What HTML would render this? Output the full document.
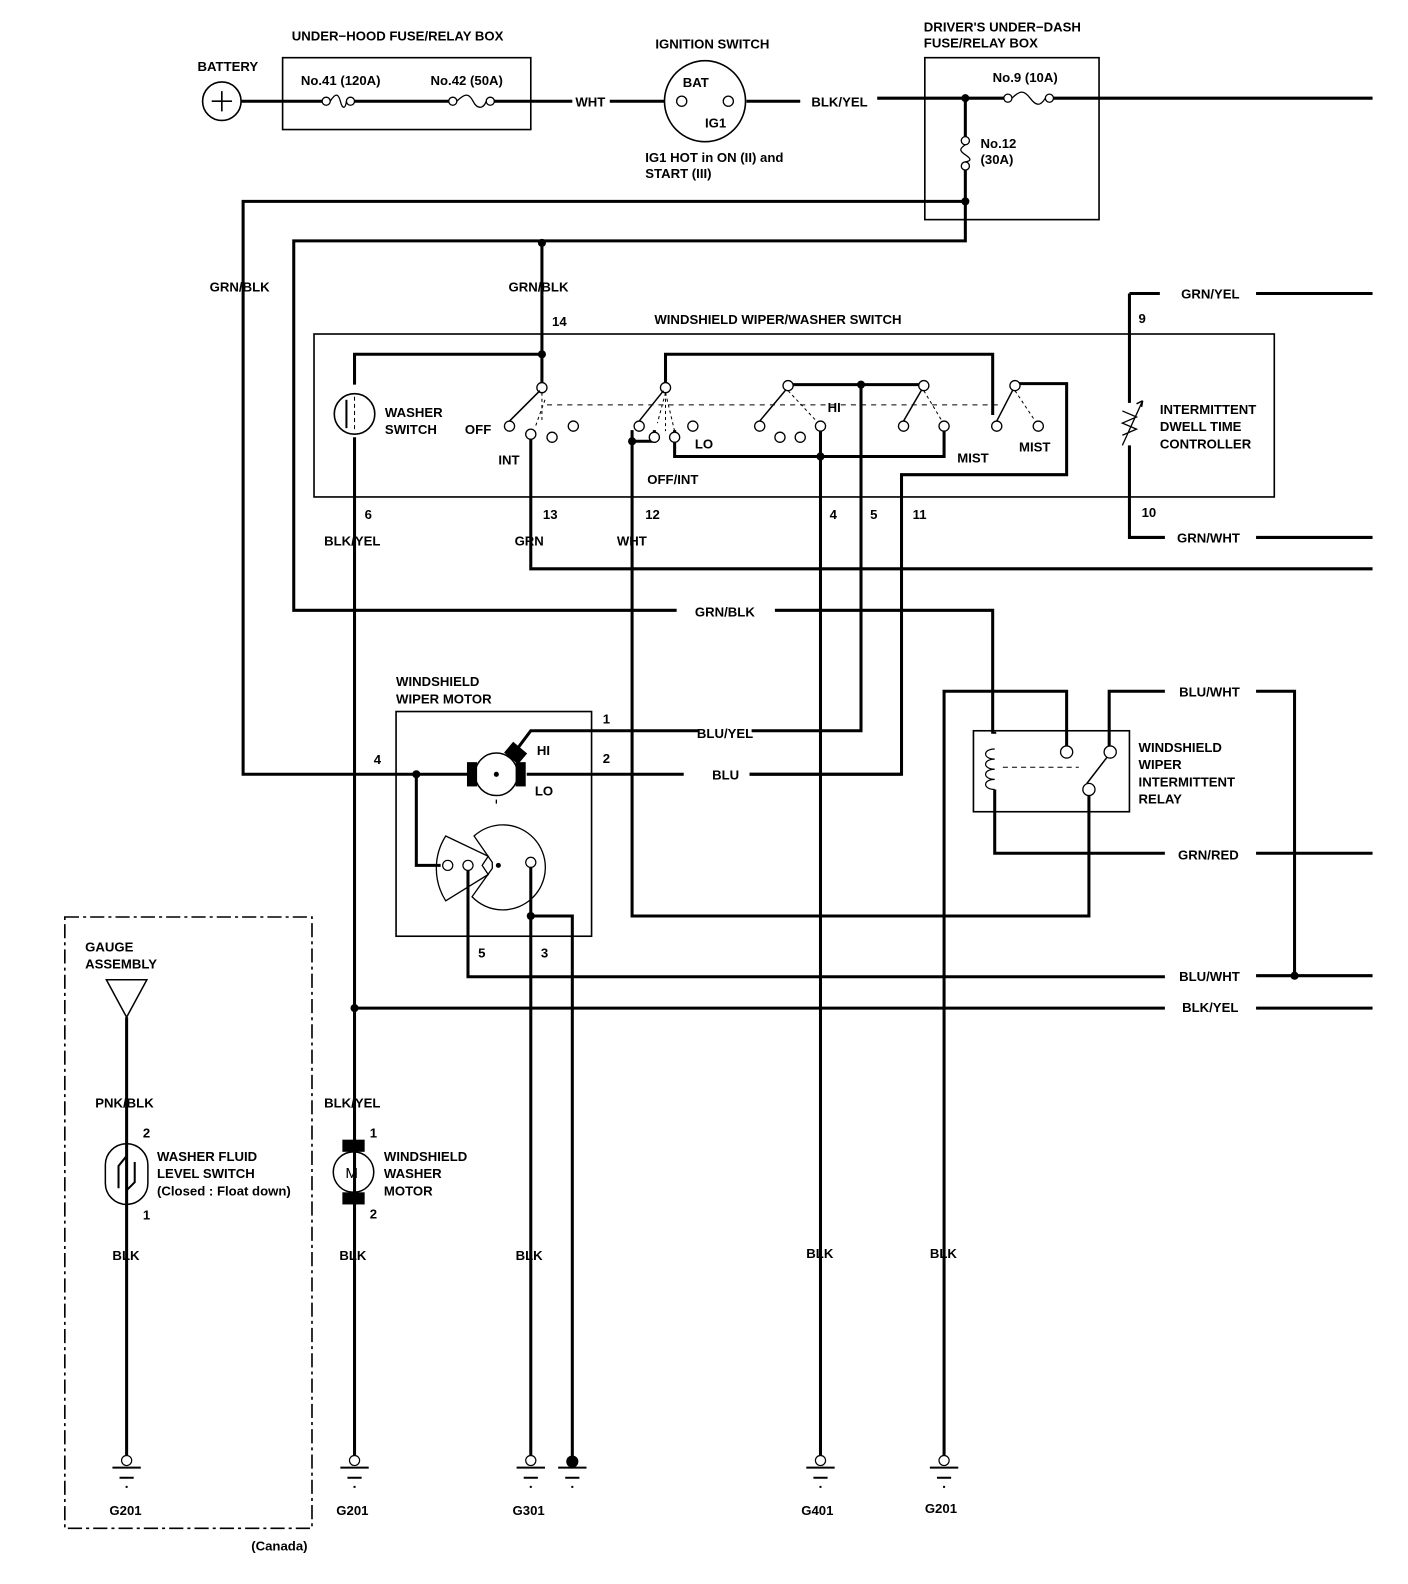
<!DOCTYPE html>
<html><head><meta charset="utf-8"><style>
html,body{margin:0;padding:0;background:#fff}
svg{display:block}
text{font-family:"Liberation Sans Narrow","Liberation Sans",sans-serif;font-weight:bold;font-size:13px;fill:#000}
</style></head><body>
<svg width="1408" height="1584" viewBox="0 0 1390 1565" preserveAspectRatio="none" xmlns="http://www.w3.org/2000/svg">
<g fill="none" stroke="#000" stroke-width="1.6">
<rect x="279" y="57" width="245" height="71"/>
<rect x="913" y="57" width="172" height="160"/>
<rect x="310" y="330" width="948" height="161"/>
<rect x="391" y="703" width="193" height="222"/>
<rect x="961" y="722" width="154" height="80"/>
<rect x="64" y="906" width="244" height="604" stroke-dasharray="14,4,3,4"/>
<circle cx="219" cy="100" r="19"/>
<circle cx="696" cy="100" r="40"/>
<circle cx="350" cy="409" r="20"/>
<path d="M219 90v20M209 100h20"/>
</g>
<g fill="none" stroke="#000" stroke-width="3">
<path d="M238 100h80M350 100h93M488 100h77M602 100h54M737 100h53M866 97h15M881 97h110M1040 97h315"/>
<path d="M953 97v38M953 168v70H290v365h378M765 603h215v122"/>
<path d="M953 199H240v566h222"/>
<path d="M535 240v110H350v30M350 432v1015"/>
<path d="M535 350v30"/>
<path d="M657 380v-30h323v60"/>
<path d="M778 380h134"/>
<path d="M1000 379h53v90H890v296H740"/>
<path d="M850 380v342h-108M690 722H524l-12 16"/>
<path d="M524 425v137h831"/>
<path d="M624 425v480h451V780"/>
<path d="M646 425v11h-22"/>
<path d="M666 425v26h266v-26"/>
<path d="M810 420v1027"/>
<path d="M1115 290h30M1240 290h115M1115 290v108M1115 440v91h35M1240 531h115"/>
<path d="M520 765h155M740 765h150"/>
<path d="M411 765v90h24"/>
<path d="M462 855v110h688M1240 964h115M1278 964V683h-38M1150 683h-55v55M1053 738v-55H932v764"/>
<path d="M982 725v-2M982 780v63h168M1240 843h115"/>
<path d="M524 855v592M524 905h41v540"/>
<path d="M350 996h800M1240 996h115"/>
<path d="M125 1005v442"/>
</g>
<g fill="#fff" stroke="#000" stroke-width="1.3">
<circle cx="322" cy="100" r="4"/><circle cx="346" cy="100" r="4"/>
<circle cx="447" cy="100" r="4"/><circle cx="484" cy="100" r="4"/>
<circle cx="995" cy="97" r="4"/><circle cx="1036" cy="97" r="4"/>
<circle cx="953" cy="139" r="4"/><circle cx="953" cy="164" r="4"/>
<circle cx="673" cy="100" r="5"/><circle cx="719" cy="100" r="5"/>
</g>
<g fill="none" stroke="#000" stroke-width="1.3">
<path d="M326 100c5-8 8-8 10 0s5 8 6 0"/>
<path d="M451 100c8-8 12-8 16 0s10 8 13 0"/>
<path d="M999 97c8-8 12-8 18 0s10 8 15 0"/>
<path d="M953 143c-6 4-6 6 0 10s6 6 0 7"/>
</g>
<g fill="#fff" stroke="#000" stroke-width="1.3">
<circle cx="535" cy="383" r="5"/><circle cx="503" cy="421" r="5"/><circle cx="524" cy="429" r="5"/><circle cx="545" cy="432" r="5"/><circle cx="566" cy="421" r="5"/>
<circle cx="657" cy="383" r="5"/><circle cx="631" cy="421" r="5"/><circle cx="646" cy="432" r="5"/><circle cx="666" cy="432" r="5"/><circle cx="684" cy="421" r="5"/>
<circle cx="778" cy="381" r="5"/><circle cx="750" cy="421" r="5"/><circle cx="770" cy="432" r="5"/><circle cx="790" cy="432" r="5"/><circle cx="810" cy="421" r="5"/>
<circle cx="912" cy="381" r="5"/><circle cx="892" cy="421" r="5"/><circle cx="932" cy="421" r="5"/>
<circle cx="1002" cy="381" r="5"/><circle cx="984" cy="421" r="5"/><circle cx="1025" cy="421" r="5"/>
<circle cx="1053" cy="743" r="6"/><circle cx="1096" cy="743" r="6"/><circle cx="1075" cy="780" r="6"/>
</g>
<g fill="none" stroke="#000" stroke-width="1.5">
<path d="M503 416l30-30M631 416l24-30M750 416l26-31M892 416l18-31M984 416l16-31M1073 774l20-26"/>
<path d="M535 388v30M538 395l-10 28M657 388l-8 30M657 388v38M657 388l9 38M778 386l28 30M912 386l18 30M1002 386l20 30" stroke-dasharray="3,3" stroke-width="1"/>
<path d="M540 400H985" stroke-dasharray="5,5" stroke-width="1"/>
<path d="M350 392v34" stroke-dasharray="4,3" stroke-width="1"/>
<path d="M990 758h75" stroke-dasharray="5,4" stroke-width="1"/>
<path d="M982 740c-12 0-12 10 0 10c-12 0-12 10 0 10c-12 0-12 10 0 10c-12 0-12 10 0 10" stroke-width="1.2"/>
<path d="M342 395v28" stroke-width="2"/>
<path d="M1128 396l-20 44M1108 406l14 6-14 6 14 6-14 6" stroke-width="1.3"/>
<path d="M1128 396l-6 3m6-3l-1 6" stroke-width="1.5"/>
<circle cx="490" cy="765" r="21"/>
<path d="M490 790v4" stroke-width="1.3"/>
<path d="M468 826 A42 42 0 1 1 466 886 L486 858 L486 852 Z" stroke-width="1.3"/>
<path d="M440 826 L482 846 L476 855 L482 864 L440 890 A60 60 0 0 1 440 826 Z" stroke-width="1.3"/>
<circle cx="349" cy="1158" r="20"/>
<rect x="104" y="1130" width="42" height="60" rx="21"/>
<path d="M125 1130v12l-8 10v22M125 1190v-14l8-8v-20" stroke-width="2"/>
<path d="M105 968h40l-20 37z"/>
</g>
<g fill="#fff" stroke="#000" stroke-width="1.2">
<circle cx="442" cy="855" r="5"/><circle cx="462" cy="855" r="5"/><circle cx="524" cy="852" r="5"/>
</g>
<g fill="#000">
<rect x="461" y="753" width="10" height="24"/><rect x="509" y="753" width="10" height="24"/>
<rect x="500" y="737" width="18" height="14" transform="rotate(40 509 744)"/>
<circle cx="490" cy="765" r="2.5"/><circle cx="492" cy="855" r="2.5"/>
<rect x="338" y="1126" width="22" height="12"/><rect x="338" y="1178" width="22" height="12"/>
<circle cx="953" cy="97" r="4"/><circle cx="953" cy="199" r="4"/><circle cx="535" cy="240" r="4"/><circle cx="535" cy="350" r="4"/>
<circle cx="850" cy="380" r="4"/><circle cx="624" cy="436" r="4"/><circle cx="810" cy="451" r="4"/><circle cx="411" cy="765" r="4"/>
<circle cx="524" cy="905" r="4"/><circle cx="350" cy="996" r="4"/><circle cx="1278" cy="964" r="4"/>
<circle cx="565" cy="1444" r="6"/>
</g>
<g stroke="#000" fill="#fff">
<g stroke-width="1.2"><circle cx="125" cy="1443" r="5"/><circle cx="350" cy="1443" r="5"/><circle cx="524" cy="1443" r="5"/><circle cx="810" cy="1443" r="5"/><circle cx="932" cy="1443" r="5"/></g>
<path d="M111 1450h28M118 1460h14M124 1469h2M336 1450h28M343 1460h14M349 1469h2M510 1450h28M517 1460h14M523 1469h2M551 1450h28M558 1460h14M564 1469h2M796 1450h28M803 1460h14M809 1469h2M918 1450h28M925 1460h14M931 1469h2" stroke-width="2"/>
</g>
<g>
<text x="195" y="70">BATTERY</text>
<text x="288" y="40">UNDER−HOOD FUSE/RELAY BOX</text>
<text x="297" y="84">No.41 (120A)</text>
<text x="425" y="84">No.42 (50A)</text>
<text x="568" y="105">WHT</text>
<text x="647" y="48">IGNITION SWITCH</text>
<text x="674" y="86">BAT</text>
<text x="696" y="126">IG1</text>
<text x="637" y="160">IG1 HOT in ON (II) and</text>
<text x="637" y="176">START (III)</text>
<text x="801" y="105">BLK/YEL</text>
<text x="912" y="31">DRIVER'S UNDER−DASH</text>
<text x="912" y="47">FUSE/RELAY BOX</text>
<text x="980" y="81">No.9 (10A)</text>
<text x="968" y="146">No.12</text>
<text x="968" y="162">(30A)</text>
<text x="207" y="288">GRN/BLK</text>
<text x="502" y="288">GRN/BLK</text>
<text x="545" y="322">14</text>
<text x="646" y="320">WINDSHIELD WIPER/WASHER SWITCH</text>
<text x="1166" y="295">GRN/YEL</text>
<text x="1124" y="319">9</text>
<text x="380" y="412">WASHER</text>
<text x="380" y="429">SWITCH</text>
<text x="459" y="429">OFF</text>
<text x="492" y="459">INT</text>
<text x="686" y="443">LO</text>
<text x="817" y="407">HI</text>
<text x="639" y="478">OFF/INT</text>
<text x="945" y="457">MIST</text>
<text x="1006" y="446">MIST</text>
<text x="1145" y="409">INTERMITTENT</text>
<text x="1145" y="426">DWELL TIME</text>
<text x="1145" y="443">CONTROLLER</text>
<text x="1127" y="511">10</text>
<text x="1162" y="536">GRN/WHT</text>
<text x="360" y="513">6</text>
<text x="536" y="513">13</text>
<text x="637" y="513">12</text>
<text x="819" y="513">4</text>
<text x="859" y="513">5</text>
<text x="901" y="513">11</text>
<text x="320" y="539">BLK/YEL</text>
<text x="508" y="539">GRN</text>
<text x="609" y="539">WHT</text>
<text x="686" y="609">GRN/BLK</text>
<text x="391" y="678">WINDSHIELD</text>
<text x="391" y="695">WIPER MOTOR</text>
<text x="1164" y="688">BLU/WHT</text>
<text x="595" y="715">1</text>
<text x="688" y="729">BLU/YEL</text>
<text x="530" y="746">HI</text>
<text x="369" y="755">4</text>
<text x="595" y="754">2</text>
<text x="703" y="770">BLU</text>
<text x="528" y="786">LO</text>
<text x="1124" y="743">WINDSHIELD</text>
<text x="1124" y="760">WIPER</text>
<text x="1124" y="777">INTERMITTENT</text>
<text x="1124" y="794">RELAY</text>
<text x="1163" y="849">GRN/RED</text>
<text x="84" y="940">GAUGE</text>
<text x="84" y="957">ASSEMBLY</text>
<text x="472" y="946">5</text>
<text x="534" y="946">3</text>
<text x="1164" y="969">BLU/WHT</text>
<text x="1167" y="1000">BLK/YEL</text>
<text x="94" y="1094">PNK/BLK</text>
<text x="320" y="1094">BLK/YEL</text>
<text x="141" y="1124">2</text>
<text x="365" y="1124">1</text>
<text x="155" y="1147">WASHER FLUID</text>
<text x="155" y="1164">LEVEL SWITCH</text>
<text x="155" y="1181">(Closed : Float down)</text>
<text x="341" y="1164" style="font-weight:normal;font-size:15px">M</text>
<text x="379" y="1147">WINDSHIELD</text>
<text x="379" y="1164">WASHER</text>
<text x="379" y="1181">MOTOR</text>
<text x="141" y="1205">1</text>
<text x="365" y="1204">2</text>
<text x="111" y="1245">BLK</text>
<text x="335" y="1245">BLK</text>
<text x="509" y="1245">BLK</text>
<text x="796" y="1243">BLK</text>
<text x="918" y="1243">BLK</text>
<text x="108" y="1497">G201</text>
<text x="332" y="1497">G201</text>
<text x="506" y="1497">G301</text>
<text x="791" y="1497">G401</text>
<text x="913" y="1495">G201</text>
<text x="248" y="1532">(Canada)</text>
</g>
</svg>
</body></html>
